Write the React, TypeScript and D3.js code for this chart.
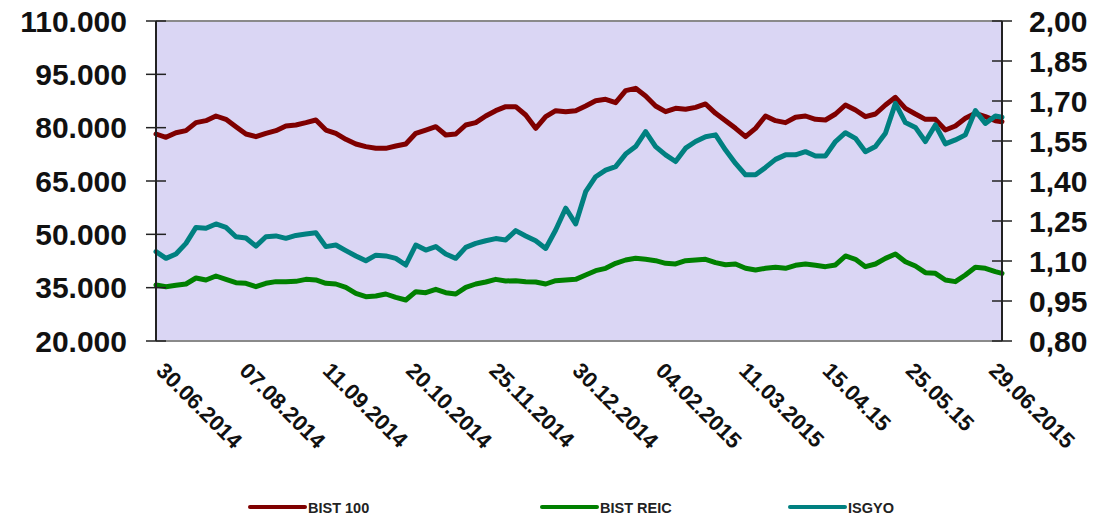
import React from "react";
import * as d3 from "d3";

// Readings taken every third trading day (last one at the final day)
const bist100 = [
  78220, 77280, 78590, 79160, 81410, 81970, 83280, 82340, 80280, 78220, 77470, 78410, 79160, 80470, 80750,
  81410, 82160, 79340, 78410, 76720, 75410, 74660, 74190, 74190, 74840, 75410, 78410, 79340, 80280,
  77940, 78220, 80750, 81410, 83280, 84780, 85910, 85910, 83560, 79810, 83090, 84780, 84500, 84780, 86090,
  87590, 87970, 87030, 90410, 91060, 88910, 86090, 84500, 85440, 85160, 85720, 86660, 84030,
  81970, 79810, 77470, 79810, 83280, 81970, 81410, 82910, 83280, 82340, 82160, 83840, 86380, 84970, 83090,
  83840, 86380, 88530, 85440, 83840, 82340, 82340, 79340, 80470, 82630, 84030, 83090, 81970, 81690,
];

const bistReic = [
  35750, 35280, 35660, 36030, 37720, 37160, 38280, 37340, 36410, 36220, 35280, 36220, 36690, 36690, 36780,
  37340, 37160, 36220, 36030, 35090, 33410, 32470, 32660, 33220, 32280, 31530, 33880, 33590, 34530,
  33590, 33220, 35090, 36030, 36590, 37340, 36880, 36970, 36690, 36590, 36030, 36970, 37160, 37340, 38560,
  39780, 40440, 41840, 42780, 43250, 42970, 42590, 41840, 41660, 42590, 42780, 42970, 42030,
  41440, 41660, 40440, 39970, 40440, 40720, 40440, 41280, 41660, 41280, 40910, 41380, 43910, 42970, 40910,
  41660, 43250, 44470, 42310, 41090, 39220, 39030, 37160, 36690, 38560, 40720, 40440, 39500, 39030,
];

const isgyo = [
  1.135, 1.11, 1.126, 1.166, 1.226, 1.223, 1.239, 1.226, 1.191, 1.186, 1.156, 1.191, 1.194, 1.185, 1.196,
  1.201, 1.206, 1.154, 1.16, 1.139, 1.119, 1.101, 1.122, 1.119, 1.11, 1.085, 1.16, 1.141, 1.154,
  1.126, 1.11, 1.151, 1.166, 1.176, 1.184, 1.179, 1.214, 1.194, 1.176, 1.147, 1.216, 1.298, 1.239, 1.36,
  1.416, 1.441, 1.454, 1.501, 1.529, 1.585, 1.529, 1.498, 1.473, 1.523, 1.548, 1.566, 1.573,
  1.516, 1.466, 1.423, 1.423, 1.451, 1.481, 1.498, 1.498, 1.51, 1.494, 1.494, 1.548, 1.581, 1.56, 1.51,
  1.529, 1.579, 1.691, 1.619, 1.601, 1.548, 1.61, 1.539, 1.554, 1.573, 1.664, 1.616, 1.644, 1.639,
];

const dateLabels = [
  "30.06.2014", "07.08.2014", "11.09.2014", "20.10.2014", "25.11.2014", "30.12.2014",
  "04.02.2015", "11.03.2015", "15.04.15", "25.05.15", "29.06.2015",
];

const leftTicks = [20000, 35000, 50000, 65000, 80000, 95000, 110000];
const rightTicks = [0.8, 0.95, 1.1, 1.25, 1.4, 1.55, 1.7, 1.85, 2.0];

const LAST_DAY = 254;
const sampleDays = d3.range(0, 253, 3).concat([LAST_DAY]);
const labelDays = d3.range(0, 251, 25);

const legendItems = [
  { name: "BIST 100", color: "#7f0000", x: 250 },
  { name: "BIST REIC", color: "#008000", x: 542 },
  { name: "ISGYO", color: "#008080", x: 790 },
];

const W = 1097;
const H = 519;
const PL = 156, PR = 1002, PT = 21, PB = 341;
const FONT = "'Liberation Sans', Arial, Helvetica, sans-serif";

const trLocale = d3.formatLocale({ decimal: ",", thousands: ".", grouping: [3], currency: ["", ""] });
const fmtLeft = trLocale.format(",");
const fmtRight = trLocale.format(",.2f");

export default function App() {
  const x = d3.scaleLinear().domain([0, LAST_DAY]).range([PL, PR]);
  const yL = d3.scaleLinear().domain([20000, 110000]).range([PB, PT]);
  const yR = d3.scaleLinear().domain([0.8, 2.0]).range([PB, PT]);

  const lineL = d3.line<number>().x((_, i) => x(sampleDays[i])).y((d) => yL(d));
  const lineR = d3.line<number>().x((_, i) => x(sampleDays[i])).y((d) => yR(d));

  const series = [
    { d: lineL(bist100), color: "#7f0000" },
    { d: lineL(bistReic), color: "#008000" },
    { d: lineR(isgyo), color: "#008080" },
  ];

  return (
    <svg
      width={W}
      height={H}
      style={{ position: "absolute", left: 0, top: 0, background: "#fff" }}
      fontFamily={FONT}
    >
      <rect x={PL} y={PT} width={PR - PL} height={PB - PT} fill="#dad6f4" />
      <line x1={PL} x2={PR} y1={PT} y2={PT} stroke="#8a8a8a" strokeWidth={2} />
      <line x1={PL} x2={PR} y1={PB} y2={PB} stroke="#8a8a8a" strokeWidth={2} />

      {series.map((s, i) => (
        <path
          key={i}
          d={s.d || ""}
          fill="none"
          stroke={s.color}
          strokeWidth={5}
          strokeLinejoin="round"
          strokeLinecap="round"
        />
      ))}

      {/* left axis */}
      <line x1={PL} x2={PL} y1={PT} y2={PB} stroke="#222" strokeWidth={2} />
      {leftTicks.map((t) => (
        <g key={t}>
          <line x1={PL - 10} x2={PL + 10} y1={yL(t)} y2={yL(t)} stroke="#222" strokeWidth={1.5} />
          <text x={127} y={yL(t) + 10.5} textAnchor="end" fontSize={30} fontWeight="bold" fill="#111">
            {fmtLeft(t)}
          </text>
        </g>
      ))}

      {/* right axis */}
      <line x1={PR} x2={PR} y1={PT} y2={PB} stroke="#222" strokeWidth={2} />
      {rightTicks.map((t) => (
        <g key={t}>
          <line x1={PR - 10} x2={PR + 10} y1={yR(t)} y2={yR(t)} stroke="#222" strokeWidth={1.5} />
          <text x={1029} y={yR(t) + 10.5} textAnchor="start" fontSize={30} fontWeight="bold" fill="#111">
            {fmtRight(t)}
          </text>
        </g>
      ))}

      {/* date labels */}
      {labelDays.map((d, i) => (
        <text
          key={d}
          transform={`translate(${x(d) - 1},372) rotate(45)`}
          fontSize={22}
          fontWeight="bold"
          fill="#111"
        >
          {dateLabels[i]}
        </text>
      ))}

      {/* legend */}
      {legendItems.map((it) => (
        <g key={it.name}>
          <line x1={it.x} x2={it.x + 55} y1={507} y2={507} stroke={it.color} strokeWidth={4} strokeLinecap="round" />
          <text x={it.x + 58} y={512.5} fontSize={14.5} fontWeight="bold" fill="#222">
            {it.name}
          </text>
        </g>
      ))}
    </svg>
  );
}
